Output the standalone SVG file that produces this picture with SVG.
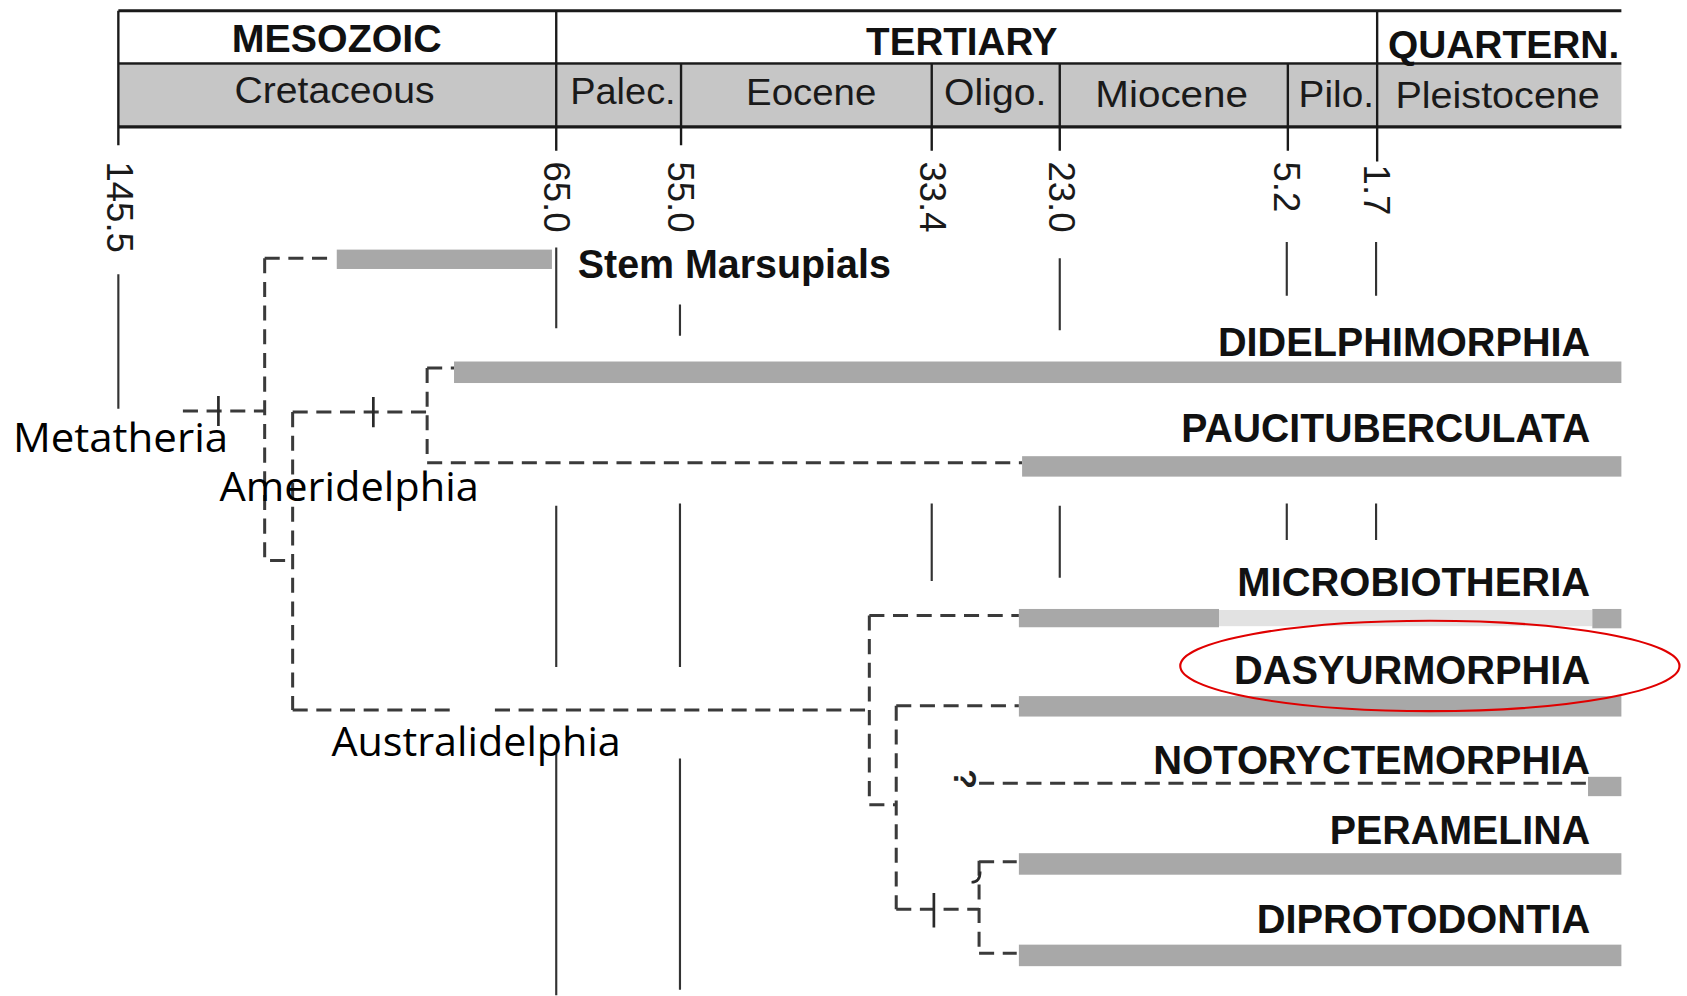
<svg xmlns="http://www.w3.org/2000/svg" width="1687" height="996" viewBox="0 0 1687 996">
<style>
.frame{stroke:#1a1a1a;stroke-width:3;fill:none}
.div{stroke:#1a1a1a;stroke-width:2.2;fill:none}
.era{font-family:"Liberation Sans",Arial,sans-serif;font-weight:bold;font-size:36px;fill:#111}
.per{font-family:"Liberation Sans",Arial,sans-serif;font-size:35px;fill:#1a1a1a;text-anchor:middle}
.tick{font-family:"Liberation Sans",Arial,sans-serif;font-size:34px;fill:#1a1a1a}
.tl{stroke:#333;stroke-width:2;fill:none}
.bar{fill:#a8a8a8}
.tree{stroke:#3a3a3a;stroke-width:2.8;fill:none;stroke-dasharray:14 8}
.solid{stroke:#2a2a2a;stroke-width:2.5;fill:none}
.lab{font-family:"Liberation Sans",Arial,sans-serif;font-weight:bold;font-size:37px;fill:#111;text-anchor:end}
.cal{font-family:"Open Sans","Noto Sans",sans-serif;font-size:38px;fill:#000}
</style>
<rect width="1687" height="996" fill="#fff"/>
<g transform="scale(1.0759)">
<g id="timescale">
<rect x="110" y="60" width="1397" height="57" fill="#c6c6c6"/>
<path class="frame" d="M110,10 H1507 M110,118 H1507"/>
<path class="div" d="M110,59 H1507"/>
<path class="div" d="M110,10 V135 M517,10 V140 M1280,10 V150 M633,59 V135 M866,59 V140 M985,59 V140 M1197,59 V140"/>
<text class="era" x="313" y="48" text-anchor="middle" textLength="195" lengthAdjust="spacingAndGlyphs">MESOZOIC</text>
<text class="era" x="894" y="51" text-anchor="middle" textLength="178" lengthAdjust="spacingAndGlyphs">TERTIARY</text>
<text class="era" x="1290" y="54" textLength="215" lengthAdjust="spacingAndGlyphs">QUARTERN.</text>
<text class="per" x="311" y="96" textLength="186" lengthAdjust="spacingAndGlyphs">Cretaceous</text>
<text class="per" x="579" y="97" textLength="98" lengthAdjust="spacingAndGlyphs">Palec.</text>
<text class="per" x="754" y="98" textLength="121" lengthAdjust="spacingAndGlyphs">Eocene</text>
<text class="per" x="925" y="98" textLength="95" lengthAdjust="spacingAndGlyphs">Oligo.</text>
<text class="per" x="1089" y="99" textLength="142" lengthAdjust="spacingAndGlyphs">Miocene</text>
<text class="per" x="1242" y="99" textLength="70" lengthAdjust="spacingAndGlyphs">Pilo.</text>
<text class="per" x="1392" y="100" textLength="190" lengthAdjust="spacingAndGlyphs">Pleistocene</text>
<text class="tick" transform="translate(99,150) rotate(90)">145.5</text>
<text class="tick" transform="translate(506,150) rotate(90)">65.0</text>
<text class="tick" transform="translate(621,150) rotate(90)">55.0</text>
<text class="tick" transform="translate(855,150) rotate(90)">33.4</text>
<text class="tick" transform="translate(975,150) rotate(90)">23.0</text>
<text class="tick" transform="translate(1184,150) rotate(90)">5.2</text>
<text class="tick" transform="translate(1268,153) rotate(90)">1.7</text>
<path class="tl" d="M110,255 V380 M517,230 V305 M517,470 V620 M517,700 V925 M632,283 V312 M632,468 V620 M632,705 V920 M866,468 V540 M985,240 V307 M985,470 V537 M1196,225 V275 M1196,468 V502 M1279,225 V275 M1279,468 V502"/>
</g>
<g id="connectors">
<path class="tree" d="M170,382 H246 M246,240 H310 M246,240 V521 H268 M272,383 V660 M272,383 H397 M397,342 V430 M397,342 H422 M397,430 H950 M272,660 H420 M460,660 H808 M808,572 V748 M808,572 H947 M808,748 H833 M833,656 V845 M833,656 H947 M833,845 H910 M910,800 V885 M910,801 H945 M910,886 H945 M910,728 H1476"/>
<path class="solid" d="M203,368 V396 M347,369 V397 M868,830 V862"/>
<path class="solid" d="M911,810 q0,10 -8,10"/>
<text x="874" y="728" transform="rotate(90 887 728)" font-family="Liberation Sans,Arial,sans-serif" font-weight="bold" font-size="30" fill="#222">?</text>
</g>
<g id="stem"><rect class="bar" x="313" y="232" width="200" height="18"/><text class="lab" x="828" y="258" font-size="34" textLength="291" lengthAdjust="spacingAndGlyphs">Stem Marsupials</text></g>
<g id="didelphimorphia"><rect class="bar" x="422" y="336" width="1085" height="20"/><text class="lab" x="1478" y="331" textLength="346" lengthAdjust="spacingAndGlyphs">DIDELPHIMORPHIA</text></g>
<g id="paucituberculata"><rect class="bar" x="950" y="424" width="557" height="19"/><text class="lab" x="1478" y="411" textLength="380" lengthAdjust="spacingAndGlyphs">PAUCITUBERCULATA</text></g>
<g id="microbiotheria"><rect class="bar" x="947" y="566" width="186" height="17"/><rect x="1133" y="567" width="347" height="15" fill="#e2e2e2"/><rect class="bar" x="1480" y="566" width="27" height="18"/><text class="lab" x="1478" y="554" textLength="328" lengthAdjust="spacingAndGlyphs">MICROBIOTHERIA</text></g>
<g id="dasyurmorphia"><rect class="bar" x="947" y="647" width="560" height="19"/><text class="lab" x="1478" y="636" textLength="331" lengthAdjust="spacingAndGlyphs">DASYURMORPHIA</text><ellipse cx="1329" cy="619" rx="232" ry="42" fill="none" stroke="#e00000" stroke-width="2"/></g>
<g id="notoryctemorphia"><rect class="bar" x="1476" y="722" width="31" height="18"/><text class="lab" x="1478" y="719" textLength="406" lengthAdjust="spacingAndGlyphs">NOTORYCTEMORPHIA</text></g>
<g id="peramelina"><rect class="bar" x="947" y="793" width="560" height="20"/><text class="lab" x="1478" y="784" textLength="242" lengthAdjust="spacingAndGlyphs">PERAMELINA</text></g>
<g id="diprotodontia"><rect class="bar" x="947" y="878" width="560" height="20"/><text class="lab" x="1478" y="867" textLength="310" lengthAdjust="spacingAndGlyphs">DIPROTODONTIA</text></g>
<g id="metatheria"><text class="cal" x="12" y="420" textLength="200" lengthAdjust="spacingAndGlyphs">Metatheria</text></g>
<g id="ameridelphia"><text class="cal" x="204" y="466" textLength="241" lengthAdjust="spacingAndGlyphs">Ameridelphia</text></g>
<g id="australidelphia"><text class="cal" x="308" y="703" textLength="269" lengthAdjust="spacingAndGlyphs">Australidelphia</text></g>
</g>
</svg>
